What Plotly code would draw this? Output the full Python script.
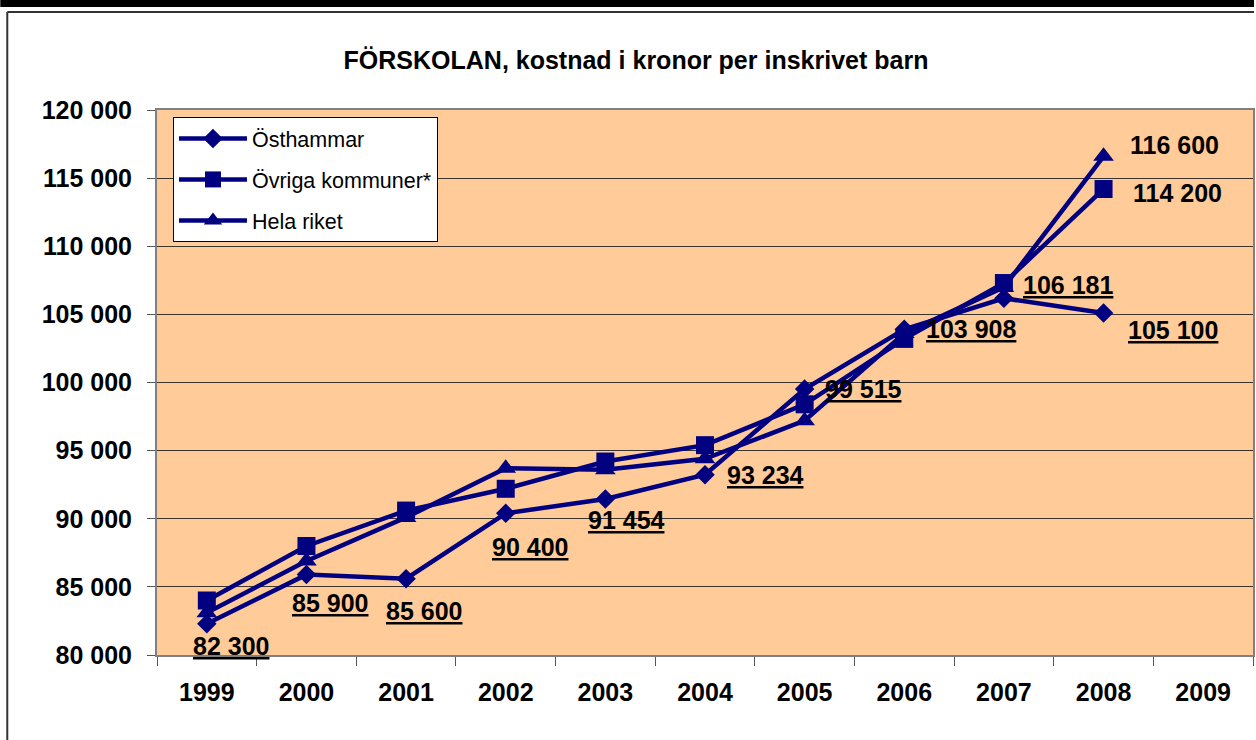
import plotly.graph_objects as go

# ---- data ----
years = ["1999", "2000", "2001", "2002", "2003", "2004", "2005", "2006", "2007", "2008", "2009"]
data_years = years[:10]
osthammar = [82300, 85900, 85600, 90400, 91454, 93234, 99515, 103908, 106181, 105100]
ovriga = [84000, 88000, 90600, 92200, 94200, 95400, 98400, 103200, 107300, 114200]
riket = [83100, 86900, 90100, 93700, 93600, 94400, 97200, 103600, 107000, 116600]
series_names = ["Östhammar", "Övriga kommuner*", "Hela riket"]
y_ticks = [80000, 85000, 90000, 95000, 100000, 105000, 110000, 115000, 120000]

# ---- layout geometry (pixels) ----
W, H = 1256, 740
L, R, T, B = 157, 1255, 110, 655
NAVY = "#000080"
FONT = "Liberation Sans, Arial, sans-serif"


def fmt(v):
    return f"{v:,}".replace(",", " ")


def px_x(px):
    return (px - L) / (R - L)


def px_y(py):
    return (B - py) / (B - T)


fig = go.Figure()
markers = [("diamond", 15), ("square", 18), ("triangle-up", 18)]
for i, (name, vals) in enumerate(zip(series_names, [osthammar, ovriga, riket])):
    fig.add_trace(go.Scatter(
        x=data_years, y=vals, name=name, mode="lines+markers",
        line=dict(color=NAVY, width=4.5),
        marker=dict(symbol=markers[i][0], size=markers[i][1], color=NAVY),
        legendgroup=f"g{i}",
        hoverinfo="x+y+name",
    ))

LABEL_FONT = dict(family=FONT, size=25, color="black", weight="bold")

# data labels for Östhammar (underlined)
ost_offsets = [(24, 22), (24, 28), (18, 32), (24, 34), (21, 21), (60, 0), (59, 0), (67, 0), (64, -13), (69, 17)]
annotations = []
for yr, v, (dx, dy) in zip(data_years, osthammar, ost_offsets):
    annotations.append(dict(
        x=years.index(yr), y=v, xref="x", yref="y", text=f"<b><u>{fmt(v)}</u></b>",
        showarrow=False, xshift=dx, yshift=-dy, xanchor="center", yanchor="middle",
        font=LABEL_FONT,
    ))
# end labels for the other two series
for vals, (dx, dy) in [(riket, (71, -11)), (ovriga, (74, 4))]:
    annotations.append(dict(
        x=years.index(data_years[-1]), y=vals[-1], xref="x", yref="y", text=f"<b>{fmt(vals[-1])}</b>",
        showarrow=False, xshift=dx, yshift=-dy, xanchor="center", yanchor="middle",
        font=LABEL_FONT,
    ))

shapes = [
    # thick black bar at top of page
    dict(type="rect", xref="paper", yref="paper", x0=px_x(0), x1=px_x(W), y0=px_y(0), y1=px_y(7),
         fillcolor="black", line=dict(width=0), layer="above"),
    # chart frame (top and left edges)
    dict(type="line", xref="paper", yref="paper", x0=px_x(7), x1=px_x(W), y0=px_y(12), y1=px_y(12),
         line=dict(color="#333333", width=2)),
    dict(type="line", xref="paper", yref="paper", x0=px_x(7), x1=px_x(7), y0=px_y(12), y1=px_y(H),
         line=dict(color="#333333", width=2)),
]

fig.update_layout(
    width=W, height=H,
    margin=dict(l=L, r=W - R, t=T, b=H - B, pad=0),
    paper_bgcolor="white",
    plot_bgcolor="#FFCC99",
    separators=", ",
    font=dict(family=FONT, color="black"),
    title=dict(
        text="<b>FÖRSKOLAN, kostnad i kronor per inskrivet barn</b>",
        font=dict(family=FONT, size=25, color="black"),
        x=636 / W, xref="container", xanchor="center",
        y=1 - 60 / H, yref="container", yanchor="middle",
    ),
    legend=dict(
        x=px_x(173), y=px_y(117), xanchor="left", yanchor="top",
        bgcolor="white", bordercolor="black", borderwidth=1,
        font=dict(family=FONT, size=21.5, color="black"),
        tracegroupgap=10, traceorder="grouped",
        itemwidth=68,
    ),
    annotations=annotations,
    shapes=shapes,
    showlegend=True,
)

fig.update_xaxes(
    type="category", categoryorder="array", categoryarray=years,
    range=[-0.5, len(years) - 0.5],
    tickmode="array", tickvals=years, ticktext=years,
    tickson="boundaries", ticks="outside", ticklen=9, tickcolor="#555555", tickwidth=1,
    showgrid=False, zeroline=False,
    showline=True, linecolor="#808080", linewidth=2, mirror=True,
    tickfont=dict(family=FONT, size=25, color="black", weight="bold"),
    ticklabelstandoff=14,
    fixedrange=True,
)
fig.update_yaxes(
    range=[y_ticks[0], y_ticks[-1]],
    tickmode="array", tickvals=y_ticks, ticktext=[fmt(v) for v in y_ticks],
    ticks="outside", ticklen=8, tickcolor="#555555", tickwidth=1,
    showgrid=True, gridcolor="#3c342a", gridwidth=1,
    zeroline=False,
    showline=True, linecolor="#808080", linewidth=2, mirror=True,
    tickfont=dict(family=FONT, size=25, color="black", weight="bold"),
    ticklabelstandoff=10,
    fixedrange=True,
)

fig.write_html(
    "out.html",
    config={"displayModeBar": False},
    post_script="document.body.style.margin='0';document.body.style.overflow='hidden';",
)
